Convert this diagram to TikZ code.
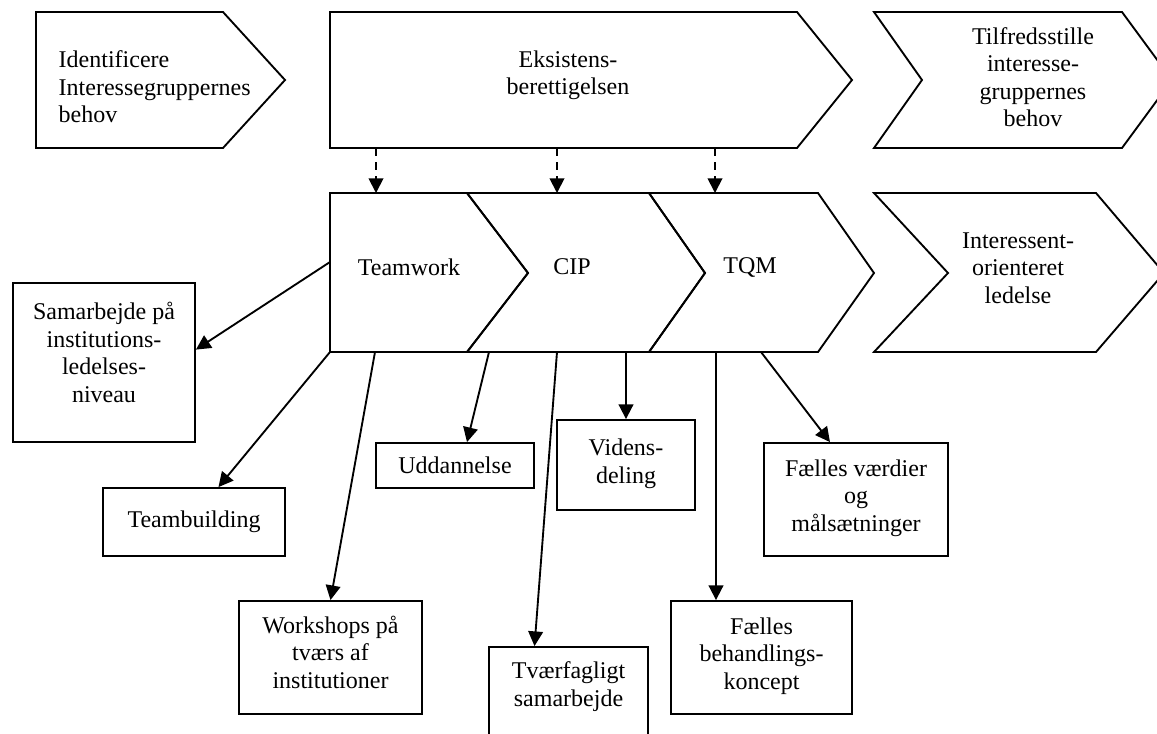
\documentclass[tikz,border=0pt]{standalone}
\usepackage{fontspec}
\setmainfont{Liberation Serif}
\usetikzlibrary{arrows.meta,calc}
\begin{document}
\begin{tikzpicture}[x=0.75pt,y=-0.75pt,
  every node/.style={font=\fontsize{18}{20.6}\selectfont},
  outline/.style={draw=black,line width=1.4pt,line join=miter},
  box/.style={draw=black,line width=1.4pt,align=center,inner sep=2pt},
  link/.style={line width=1.4pt,-{Triangle[length=11pt,width=11pt]}},
  hint/.style={link,dash pattern=on 6pt off 4.5pt}]
\useasboundingbox (0,0) rectangle (1157,733);
\clip (0,0) rectangle (1157,733);

% upper row of process arrows
\draw[outline] (36,12) -- (223,12) -- (285,80) -- (223,148) -- (36,148) -- cycle;
\draw[outline] (330,12) -- (797,12) -- (852,80) -- (797,148) -- (330,148) -- cycle;
\draw[outline] (874,12) -- (1122,12) -- (1172,80) -- (1122,148) -- (874,148) -- (922,80) -- cycle;
\node[anchor=west,align=left] (ident) at (54,87) {Identificere\\Interessegruppernes\\behov};
\node[align=center] (eksist) at (568,75) {Eksistens-\\berettigelsen};
\node[align=center] (tilfreds) at (1033,77) {Tilfredsstille\\interesse-\\gruppernes\\behov};

% lower row of process arrows
\draw[outline] (330,193) -- (467,193) -- (528,273) -- (467,352) -- (330,352) -- cycle;
\draw[outline] (467,193) -- (649,193) -- (705,273) -- (649,352) -- (467,352) -- (528,273) -- cycle;
\draw[outline] (649,193) -- (818,193) -- (874,273) -- (818,352) -- (649,352) -- (705,273) -- cycle;
\draw[outline] (874,193) -- (1096,193) -- (1164,273) -- (1096,352) -- (874,352) -- (948,273) -- cycle;
\node (team) at (409,267) {Teamwork};
\node (cip) at (572,267) {CIP};
\node (tqm) at (750,267) {TQM};
\node[align=center] (interes) at (1018,268) {Interessent-\\orienteret\\ledelse};

% dashed links between the rows
\coordinate (u1) at (376,148); \coordinate (w1) at (376,193);
\coordinate (u2) at (557,148); \coordinate (w2) at (557,193);
\coordinate (u3) at (715,148); \coordinate (w3) at (715,193);
\draw[hint] (u1) -- (w1);
\draw[hint] (u2) -- (w2);
\draw[hint] (u3) -- (w3);

% boxes with the concrete measures
\node[box,minimum width=136.5pt,minimum height=119.25pt,text depth=15pt] (sam) at (104,362.5)
  {Samarbejde på\\institutions-\\ledelses-\\niveau};
\node[box,minimum width=136.5pt,minimum height=51pt] (teamb) at (194,522) {Teambuilding};
\node[box,minimum width=137.25pt,minimum height=84.75pt,text depth=8pt] (work) at (330.5,657.5)
  {Workshops på\\tværs af\\institutioner};
\node[box,minimum width=119.25pt,minimum height=84.75pt,text depth=29pt] (tvaer) at (568.5,703.5)
  {Tværfagligt\\samarbejde};
\node[box,minimum width=118.5pt,minimum height=33.75pt] (udd) at (455,465.5) {Uddannelse};
\node[box,minimum width=103.5pt,minimum height=67.5pt,text depth=6pt] (viden) at (626,465) {Videns-\\deling};
\node[box,minimum width=135.75pt,minimum height=84.75pt,text depth=6pt] (fb) at (761.5,657.5)
  {Fælles\\behandlings-\\koncept};
\node[box,minimum width=138pt,minimum height=84.75pt,text depth=6pt] (fv) at (856,499.5)
  {Fælles værdier\\og\\målsætninger};

% start points on the lower row
\coordinate (s1) at (330,262);
\coordinate (s2) at (330,352);
\coordinate (s3) at (375,352);
\coordinate (s4) at (557,352);
\coordinate (s5) at (489,352);
\coordinate (s6) at (626,352);
\coordinate (s7) at (716,352);
\coordinate (s8) at (761,352);

\draw[link] (s1) -- (sam.8);
\draw[link] (s2) -- (teamb.55);
\draw[link] (s3) -- (work.north);
\draw[link] (s4) -- ($(tvaer.north)+(-34,0)$);
\draw[link] (s5) -- ($(udd.north)+(12,0)$);
\draw[link] (s6) -- (viden.north);
\draw[link] (s7) -- ($(fb.north)+(-45.5,0)$);
\draw[link] (s8) -- ($(fv.north)+(-26,0)$);
\end{tikzpicture}
\end{document}
